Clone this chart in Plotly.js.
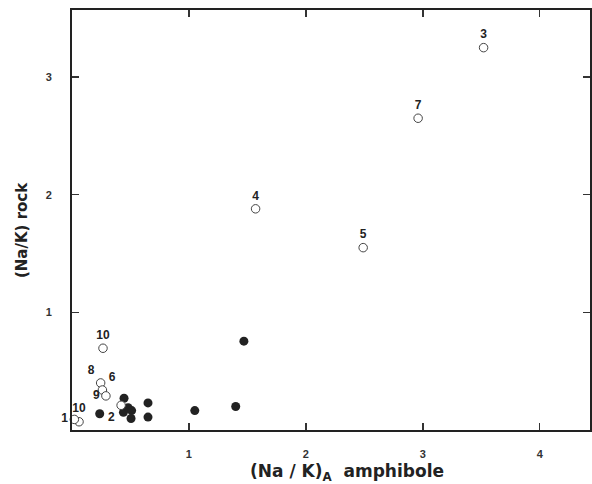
<!DOCTYPE html>
<html>
<head>
<meta charset="utf-8">
<script src="https://cdn.plot.ly/plotly-3.0.1.min.js"></script>
<style>html,body{margin:0;padding:0;background:#fff;}#chart{width:592px;height:484px;}</style>
</head>
<body>
<div id="chart"></div>
<script>
// Open circles (labelled samples)
const openX = [3.52, 2.96, 2.49, 1.57, 0.265, 0.245, 0.26, 0.29, 0.42, 0.06, 0.02];
const openY = [3.25, 2.65, 1.55, 1.88, 0.695, 0.40, 0.34, 0.29, 0.21, 0.07, 0.09];
const openLabels = ['3', '7', '5', '4', '10', '8', '6', '9', '2', '10', '1'];
const openLabelPos = ['top center', 'top center', 'top center', 'top center', 'top center',
  'top left', 'top right', 'middle left', 'bottom left', 'top center', 'middle left'];

// Filled circles
const fillX = [0.237, 0.445, 0.44, 0.48, 0.51, 0.505, 0.65, 0.65, 1.05, 1.40, 1.47];
const fillY = [0.138, 0.27, 0.15, 0.19, 0.165, 0.098, 0.23, 0.11, 0.165, 0.20, 0.755];

const xTicks = [1, 2, 3, 4];
const yTicks = [1, 2, 3];

const fontFam = 'Liberation Sans, Arial, Helvetica, sans-serif';

const traces = [
  {
    x: fillX, y: fillY, type: 'scatter', mode: 'markers',
    marker: {size: 9, color: '#222', line: {width: 0}},
    cliponaxis: false, hoverinfo: 'skip'
  },
  {
    x: openX, y: openY, type: 'scatter', mode: 'markers+text',
    text: openLabels, textposition: openLabelPos,
    textfont: {family: fontFam, size: 12, color: '#222', weight: 'bold'},
    marker: {size: 8.5, color: '#fff', line: {width: 1, color: '#444'}},
    cliponaxis: false, hoverinfo: 'skip'
  }
];

const axisCommon = {
  showline: true, mirror: 'ticks', linecolor: '#222', linewidth: 2,
  ticks: 'inside', ticklen: 7, tickwidth: 1.5, tickcolor: '#333',
  showgrid: false, zeroline: false,
  tickfont: {family: fontFam, size: 11, color: '#333', weight: 'bold'},
  tickmode: 'array'
};

const layout = {
  width: 592, height: 484,
  margin: {l: 72, r: 2, t: 10, b: 54},
  paper_bgcolor: '#fff', plot_bgcolor: '#fff',
  showlegend: false,
  xaxis: Object.assign({}, axisCommon, {
    range: [0, 4.43], tickvals: xTicks, ticktext: xTicks.map(String),
    ticklabelstandoff: 13
  }),
  yaxis: Object.assign({}, axisCommon, {
    range: [0, 3.57], tickvals: yTicks, ticktext: yTicks.map(String),
    ticklabelstandoff: 16
  }),
  annotations: [
    {
      text: '(Na / K)<sub>A</sub>  amphibole', xref: 'paper', yref: 'paper',
      x: 0.531, y: 0, yshift: -42, xanchor: 'center', yanchor: 'middle', showarrow: false,
      font: {family: 'DejaVu Sans, sans-serif', size: 17, color: '#222', weight: 'bold'}
    },
    {
      text: '(Na/K) rock', xref: 'paper', yref: 'paper',
      x: 0, xshift: -50, y: 0.476, xanchor: 'center', yanchor: 'middle', textangle: -90,
      showarrow: false,
      font: {family: 'DejaVu Sans, sans-serif', size: 15, color: '#222', weight: 'bold'}
    }
  ]
};

Plotly.newPlot('chart', traces, layout, {displayModeBar: false, staticPlot: true});
</script>
</body>
</html>
